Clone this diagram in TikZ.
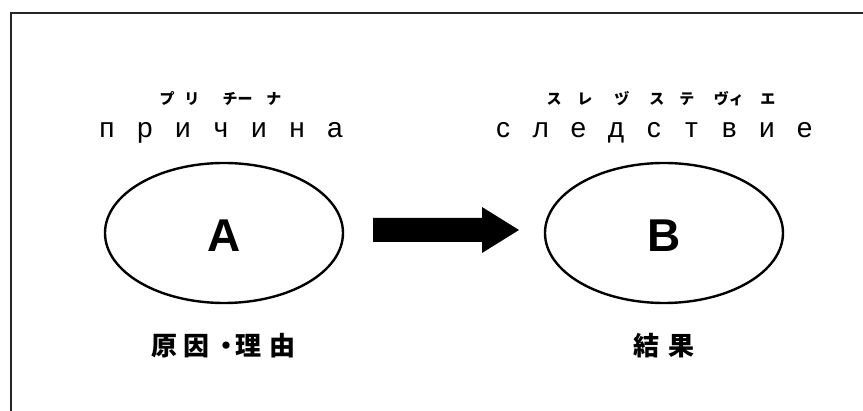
\documentclass[tikz,border=0pt]{standalone}
\usepackage{fontspec}
\usetikzlibrary{shapes.geometric}
\setmainfont{Liberation Sans}
\newfontfamily\jpfont{Noto Sans CJK JP}
\newcommand{\cb}[2]{\makebox[#1pt]{#2}}
\begin{document}
\begin{tikzpicture}[x=1pt,y=-1pt,
  lbl/.style={inner sep=0pt, outer sep=0pt},
  oval/.style={draw=black, line width=2.4pt, ellipse, minimum width=238pt, minimum height=140pt, inner sep=0pt},
  big/.style={lbl, font=\fontsize{46}{46}\selectfont\bfseries},
  cyr/.style={lbl, anchor=base west, font=\fontsize{28}{28}\selectfont},
  kana/.style={lbl, anchor=west, font=\fontsize{15}{15}\selectfont\jpfont\bfseries},
  kanji/.style={lbl, anchor=west, font=\fontsize{26}{26}\selectfont\jpfont\bfseries},
  frame/.style={draw=black!85, line width=1.8pt}
]
\useasboundingbox (0,0) rectangle (863,411);
\draw[frame] (11,411) -- (11,13) -- (863,13);
% ellipses
\node[oval] (A) at (224,233) {};
\node[oval] (B) at (664,233) {};
\node[big, anchor=base] (At) at (224,252) {A};
\node[big, anchor=base] (Bt) at (664,252) {B};
% block arrow
\fill[black] (373,218) -- (482,218) -- (482,207) -- (519,230) -- (482,253) -- (482,242) -- (373,242) -- cycle;
% Russian words
\node[cyr] (ru1) at (88,138) {\cb{38}{п}\cb{38}{р}\cb{38}{и}\cb{38}{ч}\cb{38}{и}\cb{38}{н}\cb{38}{а}};
\node[cyr] (ru2) at (484.2,138) {\cb{37.7}{с}\cb{37.7}{л}\cb{37.7}{е}\cb{37.7}{д}\cb{37.7}{с}\cb{37.7}{т}\cb{37.7}{в}\cb{37.7}{и}\cb{37.7}{е}};
% katakana readings
\node[kana] (k1) at (154,99) {\cb{26}{プ}\cb{24}{リ}\hspace{18pt}\cb{16}{チ}\cb{14}{ー}\cb{44}{ナ}};
\node[kana] (k2) at (539,99) {\cb{30}{ス}\cb{32}{レ}\cb{42}{ヅ}\cb{28}{ス}\cb{32}{テ}\cb{52}{ヴィ}\cb{26}{エ}};
% Japanese labels
\node[kanji] (j1) at (148,346) {\cb{32}{原}\cb{34}{因}\cb{26}{・}\cb{16}{理}\cb{54}{由}};
\node[kanji] (j2) at (628.5,346) {\cb{35}{結}\cb{35}{果}};
\end{tikzpicture}
\end{document}
